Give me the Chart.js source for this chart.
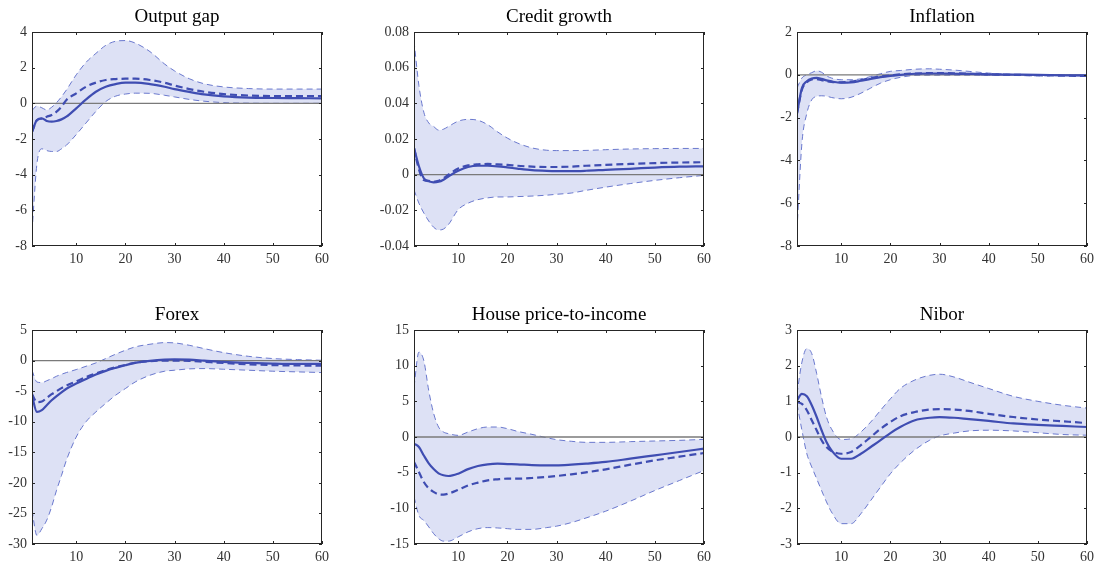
<!DOCTYPE html>
<html>
<head>
<meta charset="utf-8">
<script src="https://cdn.jsdelivr.net/npm/chart.js@4.4.1/dist/chart.umd.min.js"></script>
<style>
  html, body { margin: 0; padding: 0; background: #fff; overflow: hidden; }
  body { width: 1098px; height: 566px; position: relative; }
  .panel { position: absolute; }
</style>
</head>
<body>

<script>
// horizons (quarters) shared by every panel
const horizons = [1, 2, 3, 4, 5, 6, 7, 8, 10, 12, 14, 16, 18, 20, 22, 25, 28, 30, 33, 36, 40, 45, 50, 55, 60];
const xTicks = [10, 20, 30, 40, 50, 60];
const zeroLevel = 0;

// Output gap
const outputUpper  = [-0.4, -0.15, -0.25, -0.37, -0.22, 0.04, 0.37, 0.75, 1.6, 2.3, 2.8, 3.25, 3.48, 3.52, 3.38, 2.9, 2.2, 1.82, 1.38, 1.1, 0.92, 0.83, 0.8, 0.8, 0.8];
const outputLower  = [-7.2, -3.4, -2.55, -2.65, -2.7, -2.7, -2.55, -2.35, -1.75, -1.1, -0.45, 0.1, 0.4, 0.52, 0.57, 0.56, 0.45, 0.36, 0.22, 0.12, 0.04, 0.01, 0, 0, 0];
const outputSolid  = [-1.6, -0.93, -0.84, -0.99, -1.03, -0.99, -0.9, -0.75, -0.28, 0.22, 0.65, 0.93, 1.08, 1.16, 1.16, 1.08, 0.93, 0.8, 0.64, 0.5, 0.39, 0.32, 0.3, 0.29, 0.28];
const outputDashed = [-1.6, -0.95, -0.85, -0.75, -0.65, -0.47, -0.19, 0.19, 0.56, 0.93, 1.16, 1.31, 1.36, 1.38, 1.38, 1.31, 1.15, 1.0, 0.8, 0.65, 0.52, 0.44, 0.41, 0.4, 0.4];
const outputTicks  = [-8, -6, -4, -2, 0, 2, 4];

// Credit growth
const creditUpper  = [0.075, 0.05, 0.035, 0.029, 0.027, 0.025, 0.0255, 0.027, 0.03, 0.031, 0.0305, 0.028, 0.024, 0.0205, 0.0178, 0.015, 0.0137, 0.0135, 0.0135, 0.0136, 0.014, 0.0144, 0.0146, 0.0147, 0.0147];
const creditLower  = [-0.0085, -0.016, -0.0215, -0.026, -0.0295, -0.031, -0.0305, -0.028, -0.0196, -0.016, -0.014, -0.013, -0.0125, -0.0125, -0.0123, -0.012, -0.0115, -0.011, -0.0103, -0.0088, -0.007, -0.005, -0.0032, -0.0017, -0.0004];
const creditSolid  = [0.015, 0.0047, -0.002, -0.0037, -0.0043, -0.004, -0.0028, -0.001, 0.0022, 0.0043, 0.005, 0.005, 0.0047, 0.0041, 0.0034, 0.0025, 0.0021, 0.002, 0.002, 0.0022, 0.0027, 0.0033, 0.004, 0.0045, 0.0047];
const creditDashed = [0.015, 0.003, -0.003, -0.0035, -0.004, -0.0035, -0.002, 0, 0.0035, 0.0052, 0.0058, 0.006, 0.0058, 0.0055, 0.005, 0.0045, 0.0043, 0.0043, 0.0045, 0.005, 0.0055, 0.006, 0.0065, 0.0068, 0.007];
const creditTicks  = [-0.04, -0.02, 0, 0.02, 0.04, 0.06, 0.08];

// Inflation
const inflUpper  = [-0.62, -0.15, 0, 0.1, 0.19, 0.12, -0.05, -0.15, -0.23, -0.23, -0.19, -0.08, 0.05, 0.16, 0.2, 0.26, 0.28, 0.26, 0.22, 0.16, 0.08, 0.02, 0, 0, 0];
const inflLower  = [-7.25, -3.2, -1.8, -1.17, -1.01, -0.98, -1.0, -1.06, -1.12, -1.05, -0.86, -0.62, -0.39, -0.23, -0.12, -0.03, -0.02, -0.02, -0.02, -0.02, -0.02, -0.03, -0.05, -0.05, -0.05];
const inflSolid  = [-1.8, -0.62, -0.3, -0.17, -0.14, -0.19, -0.26, -0.31, -0.37, -0.36, -0.28, -0.19, -0.11, -0.05, 0, 0.05, 0.06, 0.06, 0.05, 0.04, 0.02, 0.01, 0, -0.02, -0.03];
const inflDashed = [-1.8, -0.7, -0.35, -0.22, -0.2, -0.25, -0.3, -0.33, -0.35, -0.32, -0.25, -0.15, -0.08, -0.03, 0.02, 0.06, 0.08, 0.08, 0.07, 0.05, 0.02, 0, -0.02, -0.04, -0.05];
const inflTicks  = [-8, -6, -4, -2, 0, 2];

// Forex
const forexUpper  = [-1.6, -3.5, -3.6, -3.3, -2.95, -2.56, -2.24, -1.96, -1.47, -0.93, -0.38, 0.33, 1.04, 1.69, 2.24, 2.67, 2.94, 2.89, 2.5, 1.96, 1.3, 0.7, 0.33, 0.16, 0.05];
const forexLower  = [-24.5, -28.6, -27.5, -26.1, -23.9, -21.2, -18.8, -16.3, -12.5, -10.0, -8.4, -7.0, -5.67, -4.58, -3.5, -2.4, -1.74, -1.58, -1.36, -1.31, -1.42, -1.58, -1.74, -1.85, -1.96];
const forexSolid  = [-5.7, -8.4, -8.1, -7.3, -6.5, -5.8, -5.2, -4.6, -3.76, -3.0, -2.29, -1.69, -1.2, -0.76, -0.38, -0.05, 0.16, 0.22, 0.16, 0, -0.22, -0.38, -0.49, -0.55, -0.55];
const forexDashed = [-5.5, -6.8, -6.7, -6.1, -5.5, -5.0, -4.5, -4.1, -3.4, -2.7, -2.1, -1.55, -1.1, -0.7, -0.35, -0.1, 0, 0, -0.05, -0.2, -0.4, -0.6, -0.75, -0.8, -0.85];
const forexTicks  = [-30, -25, -20, -15, -10, -5, 0, 5];

// House price-to-income
const houseUpper  = [7.0, 11.9, 10.7, 6.5, 3.3, 1.4, 0.7, 0.47, 0.23, 0.7, 1.17, 1.4, 1.4, 1.17, 0.8, 0.37, -0.1, -0.37, -0.6, -0.75, -0.75, -0.65, -0.56, -0.47, -0.33];
const houseLower  = [-8.4, -11.0, -11.7, -12.6, -13.55, -14.25, -14.6, -14.6, -14.0, -13.3, -12.85, -12.7, -12.75, -12.85, -12.95, -12.95, -12.7, -12.5, -12.0, -11.35, -10.4, -9.0, -7.5, -6.1, -4.7];
const houseSolid  = [-0.93, -1.4, -2.6, -3.7, -4.5, -5.1, -5.37, -5.47, -5.14, -4.5, -4.07, -3.83, -3.74, -3.79, -3.83, -3.93, -3.97, -3.97, -3.88, -3.74, -3.5, -3.04, -2.57, -2.1, -1.64];
const houseDashed = [-3.5, -4.9, -6.3, -7.2, -7.7, -8.04, -8.08, -7.94, -7.4, -6.8, -6.4, -6.07, -5.93, -5.84, -5.84, -5.75, -5.6, -5.47, -5.23, -4.95, -4.53, -3.88, -3.27, -2.76, -2.24];
const houseTicks  = [-15, -10, -5, 0, 5, 10, 15];

// Nibor
const niborUpper  = [1.21, 2.1, 2.48, 2.34, 1.78, 1.12, 0.56, 0.23, -0.07, -0.05, 0.14, 0.42, 0.75, 1.07, 1.36, 1.6, 1.73, 1.76, 1.68, 1.54, 1.36, 1.14, 1.0, 0.89, 0.81];
const niborLower  = [0.93, 0.19, -0.47, -0.84, -1.17, -1.5, -1.82, -2.1, -2.43, -2.43, -2.15, -1.78, -1.4, -1.03, -0.73, -0.36, -0.09, 0.03, 0.11, 0.17, 0.19, 0.17, 0.12, 0.07, 0.05];
const niborSolid  = [1.03, 1.21, 1.14, 0.89, 0.56, 0.19, -0.14, -0.37, -0.61, -0.61, -0.47, -0.28, -0.09, 0.11, 0.28, 0.47, 0.54, 0.56, 0.54, 0.5, 0.45, 0.38, 0.34, 0.31, 0.28];
const niborDashed = [0.98, 0.93, 0.75, 0.47, 0.19, -0.09, -0.28, -0.39, -0.47, -0.42, -0.23, 0, 0.23, 0.42, 0.58, 0.7, 0.77, 0.78, 0.77, 0.73, 0.65, 0.56, 0.49, 0.44, 0.39];
const niborTicks  = [-3, -2, -1, 0, 1, 2, 3];

const panels = [
  { title: "Output gap", upper: outputUpper, lower: outputLower, solid: outputSolid, dashed: outputDashed, ticks: outputTicks, col: 0, row: 0 },
  { title: "Credit growth", upper: creditUpper, lower: creditLower, solid: creditSolid, dashed: creditDashed, ticks: creditTicks, col: 1, row: 0 },
  { title: "Inflation", upper: inflUpper, lower: inflLower, solid: inflSolid, dashed: inflDashed, ticks: inflTicks, col: 2, row: 0 },
  { title: "Forex", upper: forexUpper, lower: forexLower, solid: forexSolid, dashed: forexDashed, ticks: forexTicks, col: 0, row: 1 },
  { title: "House price-to-income", upper: houseUpper, lower: houseLower, solid: houseSolid, dashed: houseDashed, ticks: houseTicks, col: 1, row: 1 },
  { title: "Nibor", upper: niborUpper, lower: niborLower, solid: niborSolid, dashed: niborDashed, ticks: niborTicks, col: 2, row: 1 }
];

// layout of the plot boxes
const plotLefts = [32, 414, 797];
const plotTops = [32, 330];
const plotW = 290, plotH = 214;
const sideM = 40, titleH = 30, bottomM = 26;

const lineColor = "#3f4db2";
const boundColor = "#5b6bc8";
const bandColor = "#dde1f5";
const frameColor = "#262626";
const serif = "'Liberation Serif', 'Times New Roman', serif";

// box with inward ticks, matlab style
const framePlugin = {
  id: "frame",
  afterDraw(chart) {
    const ctx = chart.ctx, a = chart.chartArea;
    const xs = chart.scales.x, ys = chart.scales.y;
    ctx.save();
    ctx.strokeStyle = frameColor;
    ctx.lineWidth = 1;
    ctx.beginPath();
    xs.ticks.forEach(t => {
      const px = Math.round(xs.getPixelForValue(t.value)) + 0.5;
      ctx.moveTo(px, a.bottom); ctx.lineTo(px, a.bottom - 3);
      ctx.moveTo(px, a.top); ctx.lineTo(px, a.top + 3);
    });
    ys.ticks.forEach(t => {
      const py = Math.round(ys.getPixelForValue(t.value)) + 0.5;
      ctx.moveTo(a.left, py); ctx.lineTo(a.left + 3, py);
      ctx.moveTo(a.right, py); ctx.lineTo(a.right - 3, py);
    });
    ctx.stroke();
    ctx.strokeRect(Math.round(a.left) + 0.5, Math.round(a.top) + 0.5, Math.round(a.right - a.left) - 1, Math.round(a.bottom - a.top) - 1);
    ctx.restore();
  }
};

function toPoints(vals) {
  return horizons.map((h, i) => ({ x: h, y: vals[i] }));
}

panels.forEach(p => {
  const div = document.createElement("div");
  div.className = "panel";
  const w = plotW + 2 * sideM, h = titleH + plotH + bottomM;
  div.style.left = (plotLefts[p.col] - sideM) + "px";
  div.style.top = (plotTops[p.row] - titleH) + "px";
  div.style.width = w + "px";
  div.style.height = h + "px";
  const canvas = document.createElement("canvas");
  canvas.width = w;
  canvas.height = h;
  div.appendChild(canvas);
  document.body.appendChild(div);

  new Chart(canvas.getContext("2d"), {
    type: "line",
    data: {
      datasets: [
        { data: toPoints(p.upper), borderColor: boundColor, borderWidth: 0.9, borderDash: [6, 4],
          backgroundColor: bandColor, fill: "+1", order: 5 },
        { data: toPoints(p.lower), borderColor: boundColor, borderWidth: 0.9, borderDash: [6, 4],
          fill: false, order: 4 },
        { data: [{ x: horizons[0], y: zeroLevel }, { x: horizons[horizons.length - 1], y: zeroLevel }],
          borderColor: "#7a7a7a", borderWidth: 1.3, fill: false, order: 3, tension: 0 },
        { data: toPoints(p.dashed), borderColor: lineColor, borderWidth: 2.2, borderDash: [7, 4],
          fill: false, order: 2 },
        { data: toPoints(p.solid), borderColor: lineColor, borderWidth: 2.2, fill: false, order: 1 }
      ]
    },
    options: {
      responsive: false,
      animation: false,
      devicePixelRatio: 1,
      layout: { padding: { left: 0, top: 0, bottom: 0, right: sideM } },
      elements: {
        point: { radius: 0 },
        line: { cubicInterpolationMode: "monotone" }
      },
      plugins: {
        legend: { display: false },
        tooltip: { enabled: false },
        title: {
          display: true,
          fullSize: false,
          text: p.title,
          color: "#000",
          font: { family: serif, size: 19, weight: "normal", lineHeight: 1 },
          padding: { top: 6, bottom: 5 }
        }
      },
      scales: {
        x: {
          type: "linear",
          min: 1,
          max: 60,
          grid: { display: false, drawTicks: false },
          border: { display: false },
          ticks: {
            color: "#333",
            font: { family: serif, size: 14 },
            padding: 5,
            maxRotation: 0,
            autoSkip: false,
            callback: v => String(v)
          },
          afterBuildTicks: s => { s.ticks = xTicks.map(v => ({ value: v })); },
          afterFit: s => { s.height = bottomM; s.paddingLeft = 0; s.paddingRight = 0; }
        },
        y: {
          min: p.ticks[0],
          max: p.ticks[p.ticks.length - 1],
          grid: { display: false, drawTicks: false },
          border: { display: false },
          ticks: {
            color: "#333",
            font: { family: serif, size: 14 },
            padding: 5,
            autoSkip: false,
            callback: v => String(v)
          },
          afterBuildTicks: s => { s.ticks = p.ticks.map(v => ({ value: v })); },
          afterFit: s => { s.width = sideM; s.paddingTop = 0; s.paddingBottom = 0; }
        }
      }
    },
    plugins: [framePlugin]
  });
});
</script>
</body>
</html>
